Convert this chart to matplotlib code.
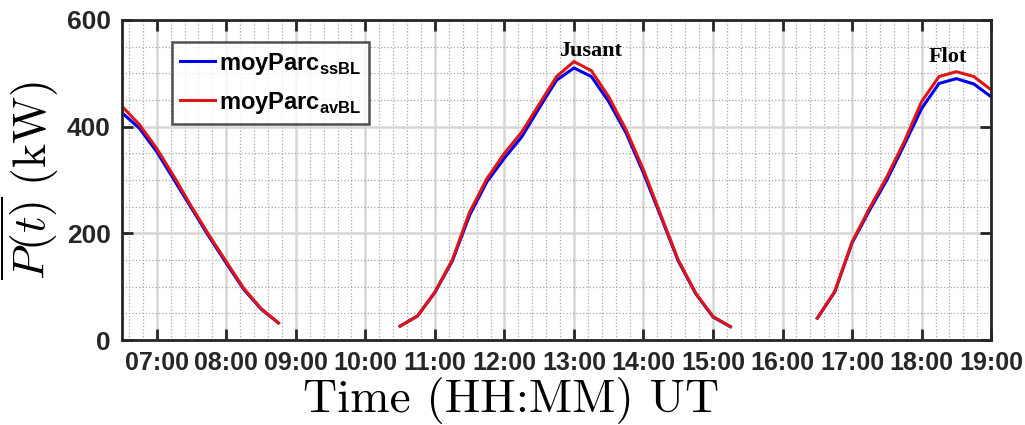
import numpy as np
import pandas as pd
import matplotlib
matplotlib.use('Agg')
import matplotlib.pyplot as plt
import matplotlib.dates as mdates

# police des textes en mathtext (légende) : Arial-like gras
plt.rcParams['mathtext.fontset'] = 'custom'
plt.rcParams['mathtext.rm'] = 'Liberation Sans'
plt.rcParams['mathtext.bf'] = 'Liberation Sans:bold'
plt.rcParams['font.family'] = ['Liberation Sans', 'DejaVu Sans']

# pas de 15 min entre 06:30 et 19:00, NaN = pas de données
t_start = '2000-01-01 06:30'
t_end = '2000-01-01 19:00'

nan = np.nan
p_ssBL = [426, 397, 353, 300, 247, 194, 144, 95, 58, 32,
          nan, nan, nan, nan, nan, nan,
          26, 45, 89, 148, 234, 297, 341, 381, 435, 487,
          510, 494, 447, 388, 313, 231, 148, 87, 43, 25,
          nan, nan, nan, nan,
          41, 90, 182, 243, 300, 366, 434, 481, 490, 480, 456]
p_avBL = [438, 404, 359, 306, 250, 197, 147, 97, 59, 32,
          nan, nan, nan, nan, nan, nan,
          26, 45, 90, 150, 240, 303, 350, 390, 442, 494,
          522, 505, 456, 394, 319, 234, 150, 88, 44, 25,
          nan, nan, nan, nan,
          41, 91, 184, 247, 306, 372, 447, 494, 503, 494, 469]

labels = [r'$\mathbf{moyParc}_{\mathbf{ssBL}}$', r'$\mathbf{moyParc}_{\mathbf{avBL}}$']
annot_text = ['Jusant', 'Flot']
annot_time = ['2000-01-01 13:14', '2000-01-01 18:23']
annot_val = [542, 531]

times = pd.date_range(t_start, t_end, freq='15min')

fig = plt.figure(figsize=(10.25, 4.25), dpi=100)
ax = fig.add_axes([0.119, 0.2, 0.848, 0.753])

ax.plot(times, p_ssBL, color='#0000ee', lw=2.2, label=labels[0])
ax.plot(times, p_avBL, color='#e01515', lw=2.2, label=labels[1])

for txt, t, v in zip(annot_text, annot_time, annot_val):
    ax.text(pd.Timestamp(t), v, txt, ha='center', va='center',
            fontsize=16, fontweight='bold', family='Liberation Serif')

ax.set_xlim(pd.Timestamp(t_start), pd.Timestamp(t_end))
ax.set_ylim(0, 600)
ax.set_yticks([0, 200, 400, 600])
ax.yaxis.set_minor_locator(matplotlib.ticker.MultipleLocator(50))
ax.xaxis.set_major_locator(mdates.HourLocator())
ax.xaxis.set_minor_locator(mdates.MinuteLocator(byminute=[12, 24, 36, 48]))
ax.xaxis.set_major_formatter(mdates.DateFormatter('%H:%M'))

# grilles façon MATLAB
ax.grid(which='major', color='#d6d6d6', lw=1.8, ls='-')
ax.grid(which='minor', color='#a8a8a8', lw=0.9, ls=':')
ax.set_axisbelow(True)

for sp in ax.spines.values():
    sp.set_linewidth(2.0)
    sp.set_color('#262626')
ax.tick_params(which='major', direction='in', length=8, width=2.0, color='#262626',
               top=True, right=True, pad=8)
ax.tick_params(axis='x', labelsize=18)
ax.tick_params(axis='y', labelsize=19)
ax.tick_params(which='minor', length=0)
for lab in ax.get_xticklabels() + ax.get_yticklabels():
    lab.set_fontweight('bold')
    lab.set_color('#262626')

ax.set_xlabel('Time (HH:MM) UT', fontsize=34, family='cmr10')
ax.xaxis.set_label_coords(0.448, -0.224, transform=ax.transAxes)
ax.xaxis.label.set_va('baseline')
ax.set_ylabel(r'$\overline{P(t)}\ (\mathrm{kW})$', fontsize=33, math_fontfamily='cm', labelpad=4)

leg = ax.legend(loc='upper left', bbox_to_anchor=(0.057, 0.93), fontsize=17,
                frameon=True, fancybox=False, edgecolor='#262626', borderpad=0.35,
                handlelength=1.5, handletextpad=0.15, labelspacing=0.55, borderaxespad=0)
leg.get_frame().set_linewidth(1.8)

fig.savefig('out.png', dpi=100)
